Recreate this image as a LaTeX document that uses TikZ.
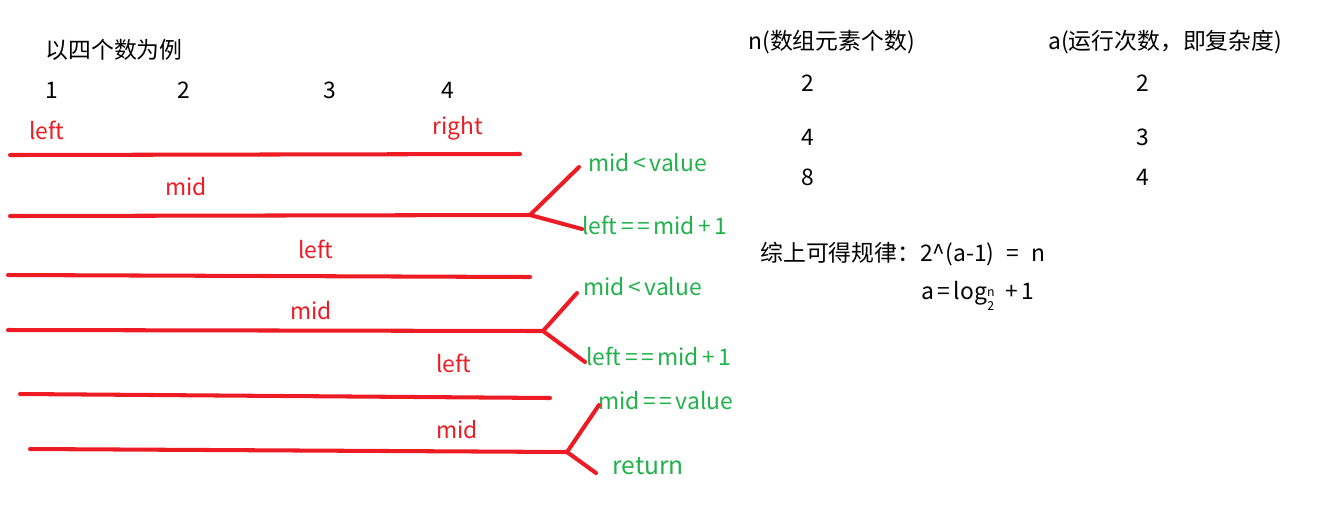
\documentclass[tikz,border=0pt]{standalone}
\usepackage{fontspec}
\setmainfont{Noto Sans CJK SC}
\usepackage{xcolor}
\usetikzlibrary{positioning}
\definecolor{penred}{HTML}{ED1C24}
\definecolor{pengreen}{HTML}{22B14C}
\newcommand{\opgap}{\hspace{2pt}}

\tikzset{
    redline/.style={draw=penred, line width=2.3pt, line cap=round},
    redlabel/.style={text=penred, inner sep=0pt, font=\fontsize{13}{15}\selectfont},
    greenlabel/.style={text=pengreen, inner sep=0pt, anchor=west, font=\fontsize{13}{15}\selectfont},
    plain/.style={inner sep=0pt, font=\fontsize{13}{15}\selectfont}
}

\begin{document}
\begin{tikzpicture}[x=0.02cm, y=-0.02cm]
    \useasboundingbox (0,0) rectangle (1327,505);

    % title and indices
    \node [plain] (title) at (114,50) {以四个数为例};
    \node [plain] (i1) at (52,90) {1};
    \node [plain] (i2) at (184,90) {2};
    \node [plain] (i3) at (330,90) {3};
    \node [plain] (i4) at (448,90) {4};

    % red labels
    \node [redlabel] (left1) at (47,130) {left};
    \node [redlabel] (right1) at (458,128) {right};
    \node [redlabel] (mid1) at (186,187) {mid};
    \node [redlabel] (left2) at (316,249) {left};
    \node [redlabel] (mid2) at (311,311) {mid};
    \node [redlabel] (left3) at (454,363) {left};
    \node [redlabel] (mid3) at (457,430) {mid};

    % line end points
    \coordinate (a1) at (10,155);  \coordinate (b1) at (520,154);
    \coordinate (a2) at (10,216);  \coordinate (b2) at (530,215);
    \coordinate (a3) at (8,275);   \coordinate (b3) at (530,277);
    \coordinate (a4) at (8,330);   \coordinate (b4) at (543,331);
    \coordinate (a5) at (20,394);  \coordinate (b5) at (550,398);
    \coordinate (a6) at (30,449);  \coordinate (b6) at (567,452);

    \foreach \k in {1,...,6}
        \draw [redline] (a\k) -- (b\k);

    % green notes
    \node [greenlabel] (cmp1) at (588,163) {mid\opgap<\opgap value};
    \node [greenlabel] (set1) at (582,225) {left\opgap=\opgap=\opgap mid\opgap+\opgap1};
    \node [greenlabel] (cmp2) at (583,287) {mid\opgap<\opgap value};
    \node [greenlabel] (set2) at (586,356) {left\opgap=\opgap=\opgap mid\opgap+\opgap1};
    \node [greenlabel] (cmp3) at (598,401) {mid\opgap=\opgap=\opgap value};
    \node [greenlabel, font=\fontsize{14}{17}\selectfont] (ret) at (612,466) {return};

    % branches
    \coordinate (u1) at (579,167); \coordinate (d1) at (582,229);
    \coordinate (u2) at (577,293); \coordinate (d2) at (585,362);
    \coordinate (u3) at (599,405); \coordinate (d3) at (596,473);
    \draw [redline] (u1) -- (b2) -- (d1);
    \draw [redline] (u2) -- (b4) -- (d2);
    \draw [redline] (u3) -- (b6) -- (d3);

    % table
    \node [plain, anchor=west] (nhead) at (748,42) {n(数组元素个数)};
    \node [plain, anchor=west] (ahead) at (1048,42) {a(运行次数，即复杂度)};
    \node [plain] (n1) at (808,83) {2};
    \node [plain] (n2) at (808,137) {4};
    \node [plain] (n3) at (808,177) {8};
    \node [plain] (c1) at (1143,83) {2};
    \node [plain] (c2) at (1143,137) {3};
    \node [plain] (c3) at (1143,177) {4};

    % conclusion
    \node [plain, anchor=west] (rule) at (760,254)
        {综上可得规律：2\^{}(a-1)\hspace{4pt} = \hspace{4pt}n};
    \node [plain, anchor=west] (logf) at (921,296)
        {a\opgap=\opgap log\raisebox{-0.9ex}{\fontsize{7}{9}\selectfont\shortstack{n\\2}}\hspace{3pt} +\opgap 1};
\end{tikzpicture}
\end{document}
